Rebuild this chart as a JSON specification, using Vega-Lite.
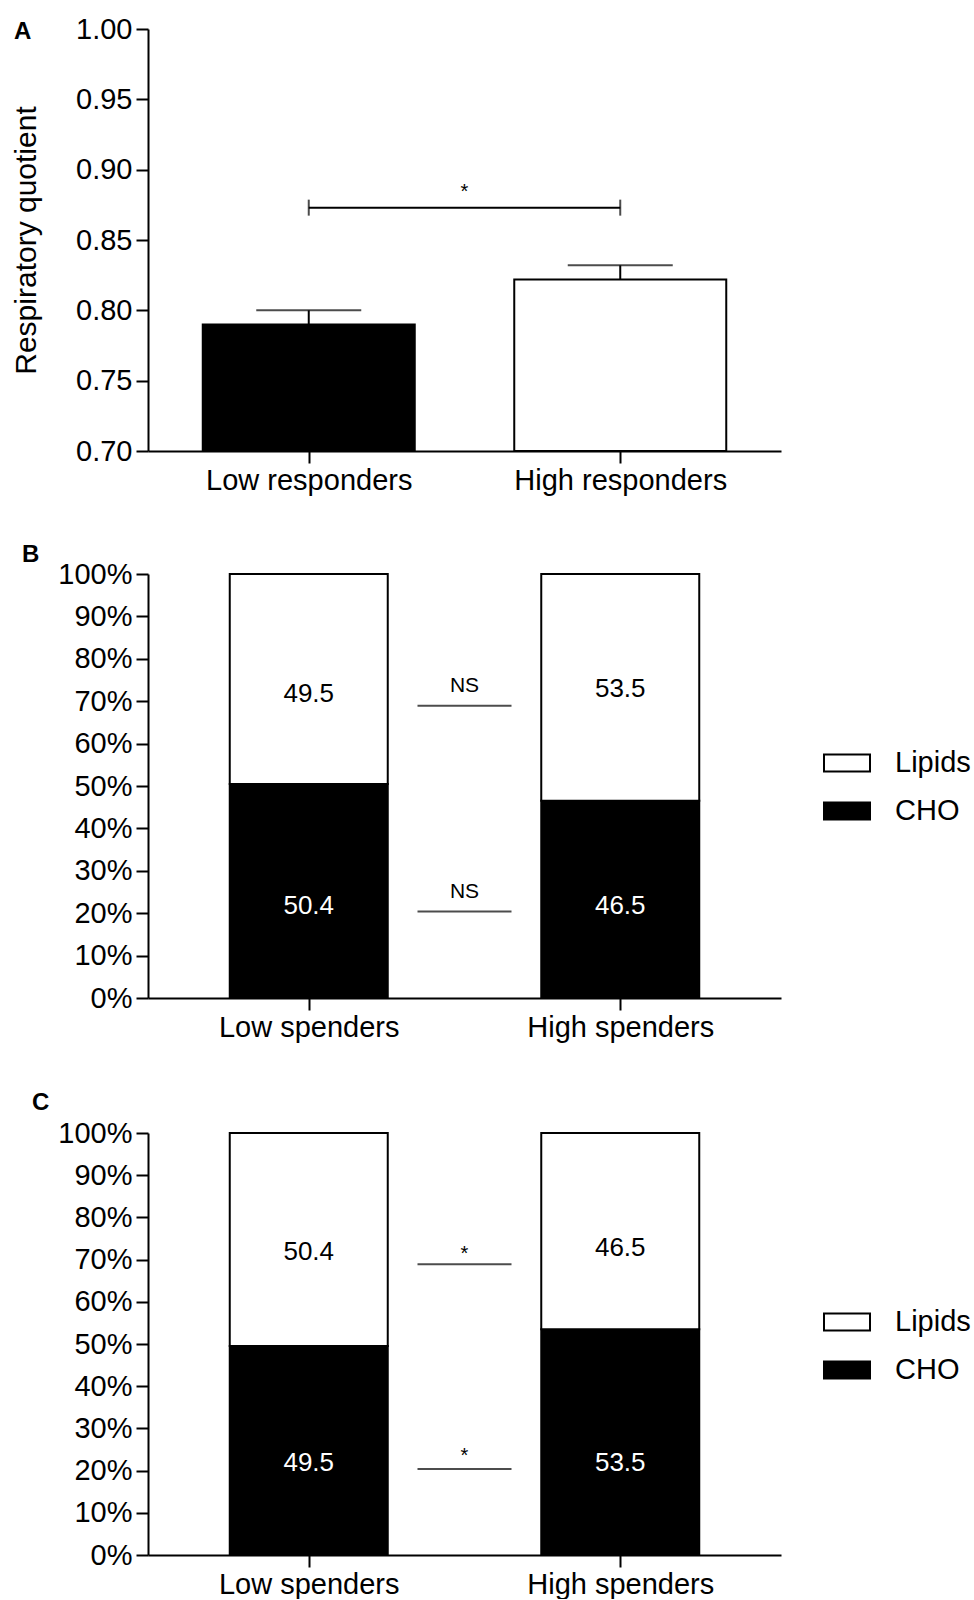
{
  "$schema": "https://vega.github.io/schema/vega-lite/v6.json",
  "padding": {"left": 11, "top": 15, "right": 0, "bottom": 0},
  "background": "white",
  "config": {
    "view": {"stroke": null},
    "font": "Liberation Sans",
    "axis": {
      "domainColor": "black", "domainWidth": 2,
      "tickColor": "black", "tickWidth": 2, "tickSize": 12,
      "labelColor": "black", "labelFontSize": 29, "labelFont": "Liberation Sans", "labelLimit": 400,
      "grid": false,
      "titleFontSize": 30, "titleFontWeight": "normal", "titleColor": "black", "titleFont": "Liberation Sans"
    },
    "axisY": {"labelPadding": 4},
    "axisX": {"labelPadding": 3},
    "title": {"fontSize": 24, "fontWeight": "bold", "anchor": "start", "frame": "group", "color": "black", "font": "Liberation Sans"}
  },
  "resolve": {"scale": {"fill": "independent"}, "legend": {"fill": "independent"}},
  "spacing": 48,
  "vconcat": [
    {
      "title": {"text": "A", "dx": -134, "dy": 29, "offset": 0, "fontSize": 24, "fontWeight": "bold", "anchor": "start", "frame": "group"},
      "width": 633,
      "height": 422,
      "data": {"values": [
        {"group": "Low responders", "x": 1, "y": 0.790, "sem": 0.010},
        {"group": "High responders", "x": 3, "y": 0.822, "sem": 0.010}
      ]},
      "encoding": {
        "x": {"field": "x", "type": "quantitative",
              "scale": {"domain": [0, 4], "nice": false, "zero": false},
              "axis": {"values": [1, 3], "title": null,
                       "labelExpr": "datum.value == 1 ? 'Low responders' : 'High responders'"}},
        "y": {"field": "y", "type": "quantitative",
              "scale": {"domain": [0.7, 1.0], "nice": false, "zero": false},
              "axis": {"values": [0.7, 0.75, 0.8, 0.85, 0.9, 0.95, 1.0], "format": ".2f",
                       "title": "Respiratory quotient", "titlePadding": 34}}
      },
      "layer": [
        {
          "mark": {"type": "errorbar", "ticks": {"size": 105, "thickness": 2, "color": "black"},
                   "rule": {"strokeWidth": 2, "color": "black"}},
          "encoding": {"yError": {"field": "sem"}}
        },
        {
          "mark": {"type": "bar", "width": 212, "stroke": "black", "strokeWidth": 2},
          "encoding": {
            "y2": {"datum": 0.7},
            "fill": {"field": "group", "type": "nominal",
                     "scale": {"domain": ["Low responders", "High responders"], "range": ["black", "white"]},
                     "legend": null}
          }
        },
        {
          "data": {"values": [{"x": 1, "x2": 3, "y": 0.873}]},
          "mark": {"type": "rule", "strokeWidth": 2, "color": "black"},
          "encoding": {"x2": {"field": "x2"}}
        },
        {
          "data": {"values": [{"x": 1, "y": 0.873}, {"x": 3, "y": 0.873}]},
          "mark": {"type": "tick", "orient": "vertical", "size": 16, "thickness": 2, "color": "black"},
          "encoding": {}
        },
        {
          "data": {"values": [{"x": 2, "y": 0.884, "label": "*"}]},
          "mark": {"type": "text", "fontSize": 20, "color": "black", "baseline": "middle", "align": "center"},
          "encoding": {"text": {"field": "label"}}
        }
      ]
    },
    {
      "spacing": 49,
      "resolve": {"scale": {"fill": "independent"}, "legend": {"fill": "independent"}},
      "vconcat": [
        {
          "title": {"text": "B", "dx": -126, "dy": 7, "offset": 0, "fontSize": 24, "fontWeight": "bold", "anchor": "start", "frame": "group"},
          "width": 633,
          "height": 424,
          "data": {"values": [
            {"group": "Low spenders", "x": 1, "nutrient": "CHO", "pct": 50.4},
            {"group": "Low spenders", "x": 1, "nutrient": "Lipids", "pct": 49.5},
            {"group": "High spenders", "x": 3, "nutrient": "CHO", "pct": 46.5},
            {"group": "High spenders", "x": 3, "nutrient": "Lipids", "pct": 53.5}
          ]},
          "encoding": {
            "x": {"field": "x", "type": "quantitative",
                  "scale": {"domain": [0, 4], "nice": false, "zero": false},
                  "axis": {"values": [1, 3], "title": null,
                           "labelExpr": "datum.value == 1 ? 'Low spenders' : 'High spenders'"}}
          },
          "layer": [
            {
              "mark": {"type": "bar", "width": 158, "stroke": "black", "strokeWidth": 2},
              "encoding": {
                "y": {"field": "pct", "type": "quantitative", "stack": "normalize",
                      "scale": {"domain": [0, 1], "nice": false},
                      "axis": {"values": [0, 0.1, 0.2, 0.3, 0.4, 0.5, 0.6, 0.7, 0.8, 0.9, 1.0], "format": ".0%", "title": null}},
                "fill": {"field": "nutrient", "type": "nominal",
                         "scale": {"domain": ["Lipids", "CHO"], "range": ["white", "black"]},
                         "legend": {"orient": "none", "legendX": 675, "legendY": 165, "title": null,
                                    "symbolType": "M-1,-0.37H1V0.37H-1Z", "symbolSize": 2116,
                                    "symbolStrokeColor": "black", "symbolStrokeWidth": 2,
                                    "labelFontSize": 29, "labelOffset": 24, "rowPadding": 9,
                                    "labelColor": "black", "labelFont": "Liberation Sans"}},
                "order": {"field": "nutrient", "sort": "ascending"}
              }
            },
            {
              "data": {"values": [
                {"x": 1, "y": 0.717, "label": "49.5"},
                {"x": 3, "y": 0.728, "label": "53.5"}
              ]},
              "mark": {"type": "text", "fontSize": 26, "baseline": "middle", "align": "center", "color": "black"},
              "encoding": {
                "y": {"field": "y", "type": "quantitative", "axis": {"title": null}},
                "text": {"field": "label"}
              }
            },
            {
              "data": {"values": [
                {"x": 1, "y": 0.218, "label": "50.4"},
                {"x": 3, "y": 0.218, "label": "46.5"}
              ]},
              "mark": {"type": "text", "fontSize": 26, "baseline": "middle", "align": "center", "color": "white"},
              "encoding": {
                "y": {"field": "y", "type": "quantitative", "axis": {"title": null}},
                "text": {"field": "label"}
              }
            },
            {
              "data": {"values": [{"x": 2, "y": 0.689}, {"x": 2, "y": 0.204}]},
              "mark": {"type": "tick", "orient": "horizontal", "size": 94, "thickness": 2, "color": "black"},
              "encoding": {"y": {"field": "y", "type": "quantitative", "axis": {"title": null}}}
            },
            {
              "data": {"values": [{"x": 2, "y": 0.736, "label": "NS"}, {"x": 2, "y": 0.251, "label": "NS"}]},
              "mark": {"type": "text", "fontSize": 21, "color": "black", "baseline": "middle", "align": "center"},
              "encoding": {
                "y": {"field": "y", "type": "quantitative", "axis": {"title": null}},
                "text": {"field": "label"}
              }
            }
          ]
        },
        {
          "title": {"text": "C", "dx": -116, "dy": 2, "offset": 6, "fontSize": 24, "fontWeight": "bold", "anchor": "start", "frame": "group"},
          "width": 633,
          "height": 422,
          "data": {"values": [
            {"group": "Low spenders", "x": 1, "nutrient": "CHO", "pct": 49.5},
            {"group": "Low spenders", "x": 1, "nutrient": "Lipids", "pct": 50.4},
            {"group": "High spenders", "x": 3, "nutrient": "CHO", "pct": 53.5},
            {"group": "High spenders", "x": 3, "nutrient": "Lipids", "pct": 46.5}
          ]},
          "encoding": {
            "x": {"field": "x", "type": "quantitative",
                  "scale": {"domain": [0, 4], "nice": false, "zero": false},
                  "axis": {"values": [1, 3], "title": null,
                           "labelExpr": "datum.value == 1 ? 'Low spenders' : 'High spenders'"}}
          },
          "layer": [
            {
              "mark": {"type": "bar", "width": 158, "stroke": "black", "strokeWidth": 2},
              "encoding": {
                "y": {"field": "pct", "type": "quantitative", "stack": "normalize",
                      "scale": {"domain": [0, 1], "nice": false},
                      "axis": {"values": [0, 0.1, 0.2, 0.3, 0.4, 0.5, 0.6, 0.7, 0.8, 0.9, 1.0], "format": ".0%", "title": null}},
                "fill": {"field": "nutrient", "type": "nominal",
                         "scale": {"domain": ["Lipids", "CHO"], "range": ["white", "black"]},
                         "legend": {"orient": "none", "legendX": 675, "legendY": 165, "title": null,
                                    "symbolType": "M-1,-0.37H1V0.37H-1Z", "symbolSize": 2116,
                                    "symbolStrokeColor": "black", "symbolStrokeWidth": 2,
                                    "labelFontSize": 29, "labelOffset": 24, "rowPadding": 9,
                                    "labelColor": "black", "labelFont": "Liberation Sans"}},
                "order": {"field": "nutrient", "sort": "ascending"}
              }
            },
            {
              "data": {"values": [
                {"x": 1, "y": 0.717, "label": "50.4"},
                {"x": 3, "y": 0.727, "label": "46.5"}
              ]},
              "mark": {"type": "text", "fontSize": 26, "baseline": "middle", "align": "center", "color": "black"},
              "encoding": {
                "y": {"field": "y", "type": "quantitative", "axis": {"title": null}},
                "text": {"field": "label"}
              }
            },
            {
              "data": {"values": [
                {"x": 1, "y": 0.219, "label": "49.5"},
                {"x": 3, "y": 0.219, "label": "53.5"}
              ]},
              "mark": {"type": "text", "fontSize": 26, "baseline": "middle", "align": "center", "color": "white"},
              "encoding": {
                "y": {"field": "y", "type": "quantitative", "axis": {"title": null}},
                "text": {"field": "label"}
              }
            },
            {
              "data": {"values": [{"x": 2, "y": 0.689}, {"x": 2, "y": 0.204}]},
              "mark": {"type": "tick", "orient": "horizontal", "size": 94, "thickness": 2, "color": "black"},
              "encoding": {"y": {"field": "y", "type": "quantitative", "axis": {"title": null}}}
            },
            {
              "data": {"values": [{"x": 2, "y": 0.713, "label": "*"}, {"x": 2, "y": 0.234, "label": "*"}]},
              "mark": {"type": "text", "fontSize": 20, "color": "black", "baseline": "middle", "align": "center"},
              "encoding": {
                "y": {"field": "y", "type": "quantitative", "axis": {"title": null}},
                "text": {"field": "label"}
              }
            }
          ]
        }
      ]
    }
  ]
}
